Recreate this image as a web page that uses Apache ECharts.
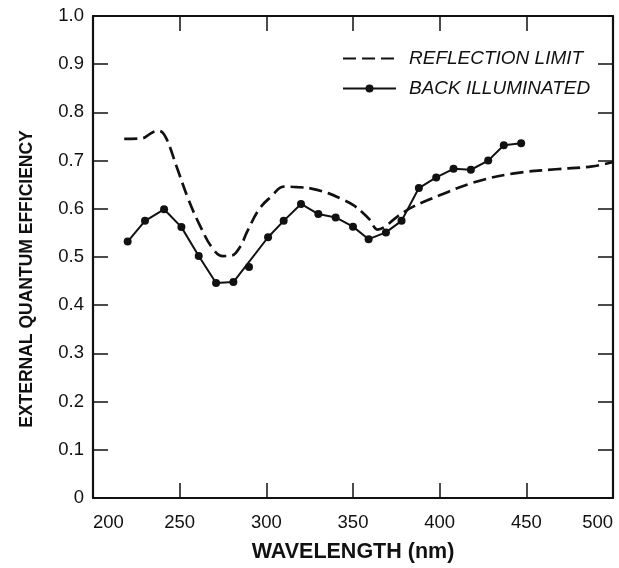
<!DOCTYPE html>
<html>
<head>
<meta charset="utf-8">
<title>External quantum efficiency</title>
<script src="https://cdn.jsdelivr.net/npm/echarts@6/dist/echarts.min.js"></script>
<style>
  html, body { margin: 0; padding: 0; background: #fff; }
  #chart { width: 619px; height: 568px; }
</style>
</head>
<body>
<div id="chart"></div>
<script>
// reflection limit curve (dashed)
const limitNm = [218, 228, 234, 238, 242, 248, 255, 262, 269, 275, 280, 285, 289, 296, 303, 310, 318, 326, 336, 343, 350, 355, 360, 364, 368, 376, 385, 400, 420, 442, 467, 488, 500];
const limitEff = [0.745, 0.746, 0.758, 0.762, 0.748, 0.69, 0.62, 0.563, 0.518, 0.502, 0.503, 0.522, 0.553, 0.600, 0.626, 0.646, 0.645, 0.642, 0.632, 0.621, 0.608, 0.594, 0.576, 0.557, 0.562, 0.585, 0.605, 0.628, 0.655, 0.673, 0.682, 0.688, 0.697];

// back illuminated measurements
const backNm = [220, 230, 241, 251, 261, 271, 281, 290, 301, 310, 320, 330, 340, 350, 359, 369, 378, 388, 398, 408, 418, 428, 437, 447];
const backEff = [0.532, 0.575, 0.599, 0.562, 0.502, 0.446, 0.448, 0.479, 0.541, 0.575, 0.610, 0.589, 0.582, 0.563, 0.537, 0.551, 0.575, 0.643, 0.665, 0.683, 0.681, 0.700, 0.732, 0.736];
// the drawn line skips this measurement
const offLineNm = [290];

const font = "Liberation Sans, Arial, Helvetica, sans-serif";
const ink = "#111";

let limitData = limitNm.map((x, i) => [x, limitEff[i]]);
let backData = backNm.map((x, i) => [x, backEff[i]]);
let lineData = backData.filter(d => offLineNm.indexOf(d[0]) < 0);
let offData = backData.filter(d => offLineNm.indexOf(d[0]) >= 0);

let myChart = echarts.init(document.getElementById("chart"));

let tickStyle = { show: true, inside: true, length: 15, lineStyle: { color: ink, width: 1.5 } };
let frameLine = { show: true, onZero: false, lineStyle: { color: ink, width: 2.2 } };

let option = {
  animation: false,
  backgroundColor: "#fff",
  grid: { left: 93, right: 6, top: 16, bottom: 66 },
  legend: {
    orient: "vertical",
    left: 337,
    top: 44,
    itemWidth: 53,
    itemHeight: 10,
    itemGap: 11,
    data: [
      { name: "REFLECTION LIMIT", itemStyle: { opacity: 0 } },
      { name: "BACK ILLUMINATED" },
    ],
    textStyle: { fontFamily: font, fontSize: 19, fontStyle: "italic", color: ink, padding: [0, 0, 0, 8] },
  },
  xAxis: [
    {
      type: "value",
      min: 200,
      max: 500,
      interval: 50,
      position: "bottom",
      axisLine: frameLine,
      axisTick: tickStyle,
      splitLine: { show: false },
      axisLabel: {
        fontFamily: font, fontSize: 18.5, color: ink, margin: 15,
        alignMinLabel: "left", alignMaxLabel: "right",
      },
      name: "WAVELENGTH (nm)",
      nameLocation: "middle",
      nameGap: 43,
      nameTextStyle: { fontFamily: font, fontSize: 21.5, fontWeight: "bold", color: ink },
    },
    {
      type: "value",
      min: 200,
      max: 500,
      interval: 50,
      position: "top",
      axisLine: frameLine,
      axisTick: tickStyle,
      splitLine: { show: false },
      axisLabel: { show: false },
    },
  ],
  yAxis: [
    {
      type: "value",
      min: 0,
      max: 1,
      interval: 0.1,
      position: "left",
      axisLine: frameLine,
      axisTick: tickStyle,
      splitLine: { show: false },
      axisLabel: {
        fontFamily: font, fontSize: 18.5, color: ink, margin: 9,
        formatter: v => (v === 0 ? "0" : v.toFixed(1)),
      },
      name: "EXTERNAL QUANTUM EFFICIENCY",
      nameLocation: "middle",
      nameGap: 57,
      // push the title a little below the middle, as in the figure
      nameTextStyle: { fontFamily: font, fontSize: 17.5, fontWeight: "bold", color: ink, padding: [0, 44, 0, 0] },
    },
    {
      type: "value",
      min: 0,
      max: 1,
      interval: 0.1,
      position: "right",
      axisLine: frameLine,
      axisTick: tickStyle,
      splitLine: { show: false },
      axisLabel: { show: false },
    },
  ],
  series: [
    {
      name: "REFLECTION LIMIT",
      type: "line",
      data: limitData,
      smooth: 0.4,
      symbol: "none",
      lineStyle: { color: ink, width: 2.7, type: [13, 6] },
      itemStyle: { color: ink },
    },
    {
      name: "BACK ILLUMINATED",
      type: "line",
      data: lineData,
      symbol: "circle",
      symbolSize: 8,
      lineStyle: { color: ink, width: 2 },
      itemStyle: { color: ink },
      z: 3,
    },
    {
      name: "off-line point",
      type: "scatter",
      data: offData,
      symbol: "circle",
      symbolSize: 8,
      itemStyle: { color: ink, opacity: 1 },
      z: 3,
    },
  ],
};

myChart.setOption(option);
window.addEventListener("resize", () => {
  myChart.resize();
});
</script>
</body>
</html>
